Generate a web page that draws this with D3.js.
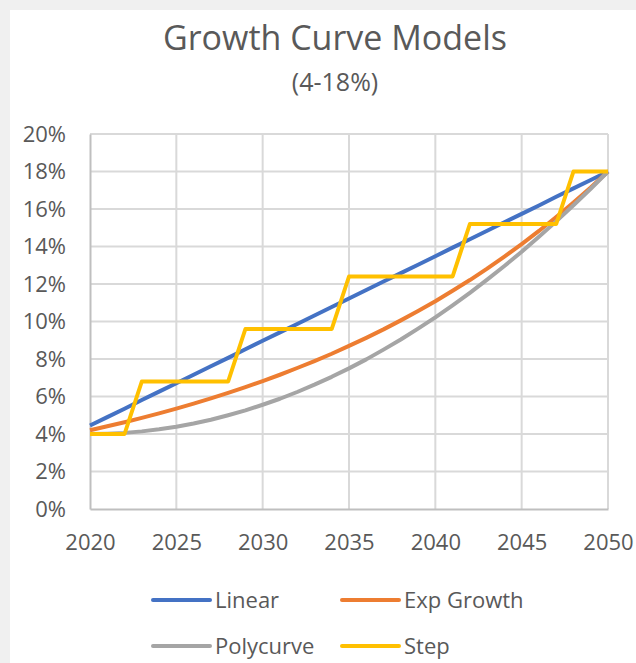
<!DOCTYPE html>
<html>
<head>
<meta charset="utf-8">
<script src="https://cdn.jsdelivr.net/npm/d3@7"></script>
<style>
  body { margin: 0; background: #f0f0f0; }
  svg { display: block; }
  text { font-family: "Open Sans", Lato, sans-serif; fill: #595959; }
</style>
</head>
<body>
<div id="wrapper"></div>
<script>
const years = d3.range(2020, 2051);
const linear = [4.45, 4.90, 5.35, 5.81, 6.26, 6.71, 7.16, 7.61, 8.06, 8.52, 8.97, 9.42, 9.87, 10.32, 10.77,
    11.23, 11.68, 12.13, 12.58, 13.03, 13.48, 13.94, 14.39, 14.84, 15.29, 15.74, 16.19, 16.65, 17.10, 17.55, 18.00];
const expGrowth = [4.20, 4.41, 4.63, 4.86, 5.10, 5.35, 5.62, 5.90, 6.19, 6.50, 6.82, 7.16, 7.52, 7.89, 8.28,
    8.70, 9.13, 9.58, 10.06, 10.56, 11.08, 11.64, 12.21, 12.82, 13.46, 14.13, 14.83, 15.57, 16.34, 17.15, 18.00];
const polycurve = [4.00, 4.02, 4.06, 4.14, 4.25, 4.39, 4.56, 4.76, 5.00, 5.26, 5.56, 5.88, 6.24, 6.63, 7.05,
    7.50, 7.98, 8.50, 9.04, 9.62, 10.22, 10.86, 11.53, 12.23, 12.96, 13.72, 14.52, 15.34, 16.20, 17.08, 18.00];
const step = [4, 4, 4, 6.8, 6.8, 6.8, 6.8, 6.8, 6.8, 9.6, 9.6, 9.6, 9.6, 9.6, 9.6,
    12.4, 12.4, 12.4, 12.4, 12.4, 12.4, 12.4, 15.2, 15.2, 15.2, 15.2, 15.2, 15.2, 18, 18, 18];
const seriesNames = ["Linear", "Exp Growth", "Polycurve", "Step"];
const seriesColors = ["#4472C4", "#ED7D31", "#A5A5A5", "#FFC000"];
const xTicks = [2020, 2025, 2030, 2035, 2040, 2045, 2050];
const yTicks = [0, 2, 4, 6, 8, 10, 12, 14, 16, 18, 20];

const series = [linear, expGrowth, polycurve, step];

const dimension = {
    width: 636,
    height: 663,
    margin: { top: 134, left: 90, bottom: 154, right: 28 }
};
dimension.boundedWidth = dimension.width - dimension.margin.left - dimension.margin.right;
dimension.boundedHeight = dimension.height - dimension.margin.top - dimension.margin.bottom;

const svg = d3.select("#wrapper").append("svg")
    .attr("width", dimension.width)
    .attr("height", dimension.height);

// white chart area, grey strip on top and left
svg.append("rect")
    .attr("x", 10).attr("y", 10)
    .attr("width", dimension.width - 10)
    .attr("height", dimension.height - 10)
    .attr("fill", "#fff");

svg.append("text")
    .attr("x", 335).attr("y", 50)
    .attr("text-anchor", "middle")
    .style("font-size", "34px")
    .text("Growth Curve Models");

svg.append("text")
    .attr("x", 335).attr("y", 91)
    .attr("text-anchor", "middle")
    .style("font-size", "25px")
    .text("(4-18%)");

const bounded = svg.append("g")
    .attr("transform", `translate(${dimension.margin.left},${dimension.margin.top})`);

const xScaler = d3.scaleLinear()
    .domain([2020, 2050])
    .range([0, dimension.boundedWidth]);

const yScaler = d3.scaleLinear()
    .domain([0, 20])
    .range([dimension.boundedHeight, 0]);

// gridlines
bounded.append("g")
    .selectAll("line")
    .data(yTicks.slice(1))
    .join("line")
    .attr("x1", 0).attr("x2", dimension.boundedWidth)
    .attr("y1", d => yScaler(d)).attr("y2", d => yScaler(d))
    .attr("stroke", "#d9d9d9").attr("stroke-width", 2);

bounded.append("g")
    .selectAll("line")
    .data(xTicks.slice(1))
    .join("line")
    .attr("x1", d => xScaler(d)).attr("x2", d => xScaler(d))
    .attr("y1", 0).attr("y2", dimension.boundedHeight)
    .attr("stroke", "#d9d9d9").attr("stroke-width", 2);

const xAxis = d3.axisBottom(xScaler)
    .tickValues(xTicks)
    .tickFormat(d3.format("d"))
    .tickSize(0)
    .tickPadding(25);

const yAxis = d3.axisLeft(yScaler)
    .tickValues(yTicks)
    .tickFormat(d => d + "%")
    .tickSize(0)
    .tickPadding(24);

const gx = bounded.append("g")
    .attr("transform", `translate(0,${dimension.boundedHeight})`)
    .call(xAxis);
gx.select(".domain").attr("stroke", "#bfbfbf").attr("stroke-width", 2);
gx.selectAll("text").style("font-size", "22px").attr("fill", "#595959");

const gy = bounded.append("g").call(yAxis);
gy.select(".domain").attr("stroke", "#bfbfbf").attr("stroke-width", 2);
gy.selectAll("text").style("font-size", "22px").attr("fill", "#595959");

const lineGenerator = d3.line()
    .x((d, i) => xScaler(years[i]))
    .y(d => yScaler(d));

series.forEach((s, k) => {
    bounded.append("path")
        .attr("d", lineGenerator(s))
        .attr("fill", "none")
        .attr("stroke", seriesColors[k])
        .attr("stroke-width", 4)
        .attr("stroke-linejoin", "round");
});

// legend
const legendPos = [[153, 600], [342, 600], [153, 646], [342, 646]];
const legend = svg.append("g");
seriesNames.forEach((name, k) => {
    const [lx, ly] = legendPos[k];
    legend.append("line")
        .attr("x1", lx).attr("x2", lx + 57)
        .attr("y1", ly).attr("y2", ly)
        .attr("stroke", seriesColors[k])
        .attr("stroke-width", 4)
        .attr("stroke-linecap", "round");
    legend.append("text")
        .attr("x", lx + 62).attr("y", ly)
        .attr("dy", "0.35em")
        .style("font-size", "22px")
        .text(name);
});
</script>
</body>
</html>
